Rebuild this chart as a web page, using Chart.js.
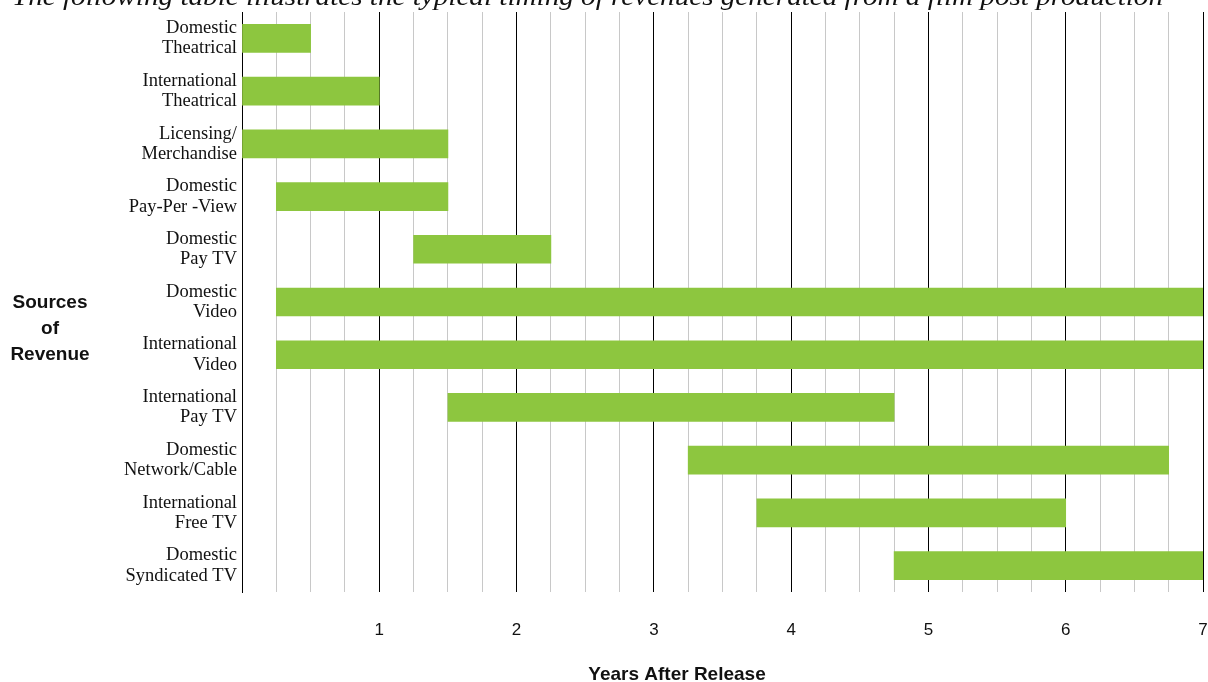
<!DOCTYPE html>
<html>
<head>
<meta charset="utf-8">
<script src="https://cdn.jsdelivr.net/npm/chart.js@4.4.1/dist/chart.umd.min.js"></script>
<style>
  html, body { margin: 0; padding: 0; background: #fff; }
  #wrap { width: 1208px; height: 682px; position: relative; }
</style>
</head>
<body>
<div id="wrap"><canvas id="myChart"></canvas></div>
<script>
// revenue windows, in years after release
const sources = [
    ['Domestic', 'Theatrical'],
    ['International', 'Theatrical'],
    ['Licensing/', 'Merchandise'],
    ['Domestic', 'Pay-Per -View'],
    ['Domestic', 'Pay TV'],
    ['Domestic', 'Video'],
    ['International', 'Video'],
    ['International', 'Pay TV'],
    ['Domestic', 'Network/Cable'],
    ['International', 'Free TV'],
    ['Domestic', 'Syndicated TV']
]
const startYears = [0, 0, 0, 0.25, 1.25, 0.25, 0.25, 1.5, 3.25, 3.75, 4.75]
const endYears = [0.5, 1, 1.5, 1.5, 2.25, 7, 7, 4.75, 6.75, 6, 7]
const yearTicks = ['1', '2', '3', '4', '5', '6', '7']

const pageTitle = 'The following table illustrates the typical timing of revenues generated from a film post production'

// extra text: top caption, left axis title, bottom axis title
const textPlugin = {
    id: 'extraText',
    afterDraw(chart) {
        const ctx = chart.ctx
        ctx.save()
        ctx.fillStyle = '#111'

        // caption, partly cut off at the top
        ctx.font = 'italic 26px "Liberation Serif", serif'
        ctx.textAlign = 'left'
        ctx.textBaseline = 'alphabetic'
        const w = ctx.measureText(pageTitle).width
        ctx.save()
        ctx.translate(12, 5)
        ctx.scale(1151 / w, 1)
        ctx.fillText(pageTitle, 0, 0)
        ctx.restore()

        // y axis title
        ctx.font = 'bold 19px "Liberation Sans", Arial, sans-serif'
        ctx.textAlign = 'center'
        ctx.textBaseline = 'middle'
        ;['Sources', 'of', 'Revenue'].forEach((line, i) => {
            ctx.fillText(line, 50, 303 + i * 26)
        })

        // x axis title
        ctx.fillText('Years After Release', 677, 675)
        ctx.restore()
    }
}

// keep the plot area edges where they are, no room left for label overhang
const noOverhang = (scale) => {
    scale.paddingLeft = 0
    scale.paddingRight = 0
    scale.paddingTop = 0
    scale.paddingBottom = 0
}

const ctx = document.getElementById('myChart').getContext('2d')

const myChart = new Chart(ctx, {
    type: 'bar',
    data: {
        labels: sources,
        datasets: [{
            label: 'Revenue window',
            data: startYears.map((s, i) => [s, endYears[i]]),
            backgroundColor: '#8dc63f',
            borderWidth: 0,
            barThickness: 28
        }]
    },
    options: {
        indexAxis: 'y',
        responsive: true,
        maintainAspectRatio: false,
        animation: false,
        layout: { padding: { top: 12, right: 5, left: 0, bottom: 0 } },
        plugins: {
            legend: { display: false },
            tooltip: { enabled: false }
        },
        scales: {
            x: {
                type: 'linear',
                min: 0,
                max: 7,
                afterFit: (scale) => { scale.height = 90; noOverhang(scale) },
                afterBuildTicks: (scale) => {
                    const t = []
                    for (let v = 0; v <= 7; v += 0.25) t.push({ value: v })
                    scale.ticks = t
                },
                ticks: {
                    autoSkip: false,
                    maxRotation: 0,
                    padding: 28,
                    color: '#111',
                    font: { family: '"Liberation Sans", Arial, sans-serif', size: 17 },
                    callback: (v) => (Number.isInteger(v) && v > 0) ? yearTicks[v - 1] : ''
                },
                grid: {
                    drawTicks: false,
                    lineWidth: 1,
                    color: (c) => Number.isInteger(c.tick.value) ? '#000' : '#c8c8c8'
                },
                border: { display: false }
            },
            y: {
                afterFit: (scale) => { scale.width = 242; noOverhang(scale) },
                ticks: {
                    padding: 5,
                    color: '#111',
                    font: { family: '"Liberation Serif", serif', size: 18.5, lineHeight: 1.1 }
                },
                grid: { display: false, drawTicks: false },
                border: { display: true, color: '#000', width: 1 }
            }
        }
    },
    plugins: [textPlugin]
})
</script>
</body>
</html>
